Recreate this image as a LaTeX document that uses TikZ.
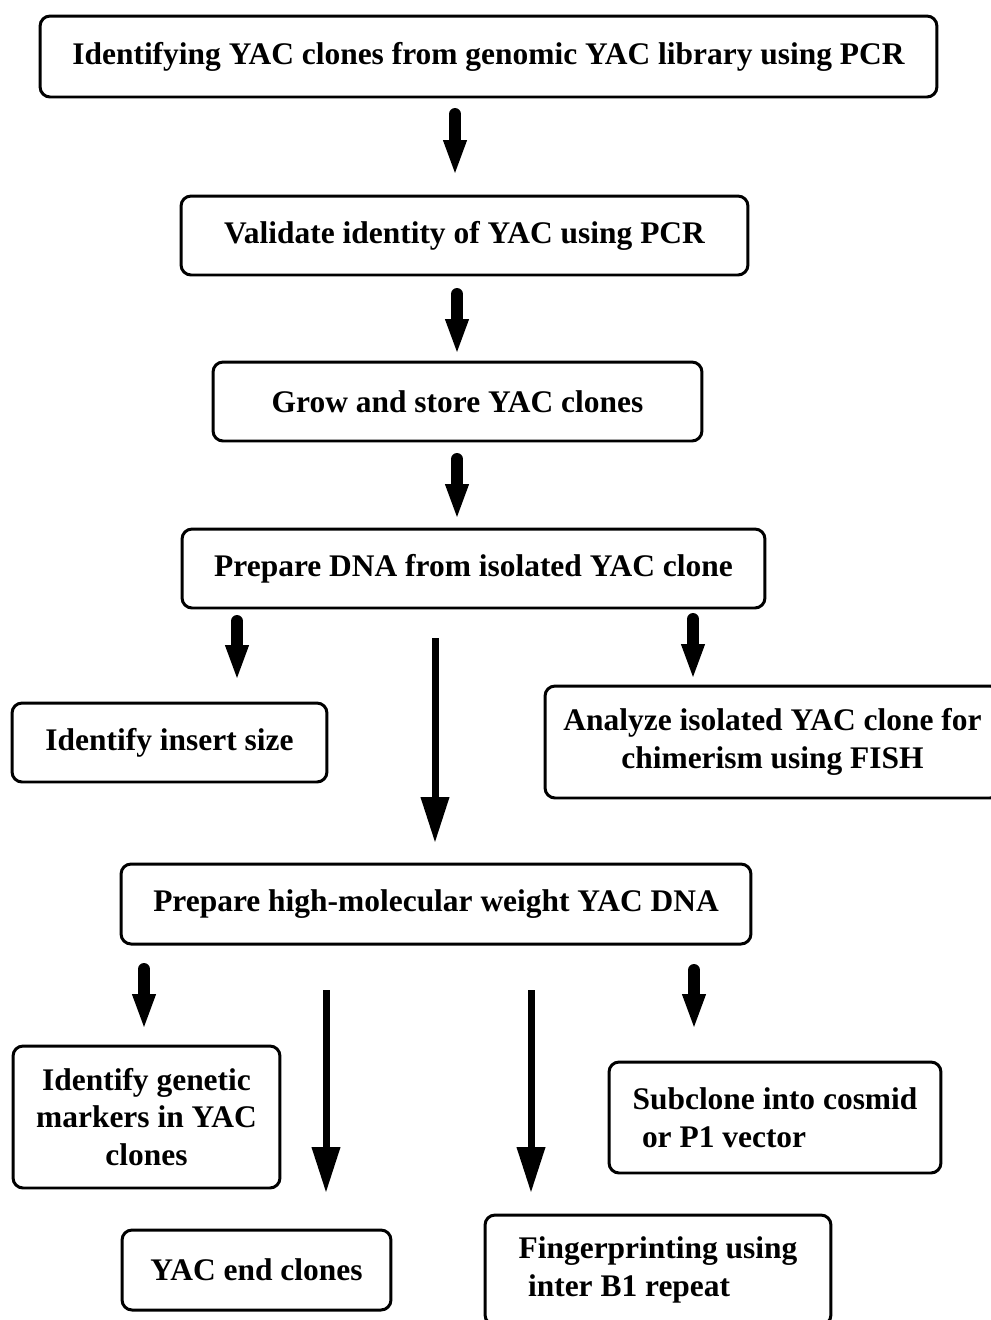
\documentclass[tikz,border=0pt]{standalone}
\usepackage{fontspec}
\setmainfont{Liberation Serif}
\usetikzlibrary{arrows.meta}

\begin{document}
\begin{tikzpicture}[x=0.02cm,y=-0.02cm,
        box/.style={draw,line width=1.7pt,rounded corners=0.2cm,align=center,
            font=\fontsize{17.9}{21.5}\selectfont\bfseries,inner sep=0pt},
        shortarr/.style={line width=0.24cm,line cap=round,-{Triangle[width=0.42cm,length=0.72cm]}},
        longarr/.style={line width=0.14cm,-{Triangle[width=0.54cm,length=0.92cm]}}]
        \useasboundingbox (0,0) rectangle (991,1320);
        % 方框
        \node [box,minimum width=17.94cm,minimum height=1.62cm] (lib) at (488.5,56.5)
            {Identifying YAC clones from genomic YAC library using PCR};
        \node [box,minimum width=11.34cm,minimum height=1.58cm] (val) at (464.5,235.5)
            {Validate identity of YAC using PCR};
        \node [box,minimum width=9.78cm,minimum height=1.58cm] (grow) at (457.5,401.5)
            {Grow and store YAC clones};
        \node [box,minimum width=11.66cm,minimum height=1.58cm] (prep) at (473.5,568.5)
            {Prepare DNA from isolated YAC clone};
        \node [box,minimum width=6.3cm,minimum height=1.58cm] (ins) at (169.5,742.5)
            {Identify insert size};
        \node [box,minimum width=9.1cm,minimum height=2.24cm] (chim) at (772.5,742)
            {Analyze isolated YAC clone for\\chimerism using FISH};
        \node [box,minimum width=12.6cm,minimum height=1.6cm] (hmw) at (436,904)
            {Prepare high-molecular weight YAC DNA};
        \node [box,minimum width=5.34cm,minimum height=2.84cm] (gen) at (146.5,1117)
            {Identify genetic\\markers in YAC\\clones};
        \node [box,minimum width=5.38cm,minimum height=1.6cm] (end) at (256.5,1270)
            {YAC end clones};
        \node [box,align=left,minimum width=6.92cm,minimum height=2.2cm] (fing) at (658,1270)
            {Fingerprinting using\\\hspace{0.3em}inter B1 repeat};
        \node [box,align=left,minimum width=6.64cm,minimum height=2.22cm] (sub) at (775,1117.5)
            {Subclone into cosmid\\\hspace{0.3em}or P1 vector};
        % 箭头起止点
        \coordinate (s1) at (455,114);  \coordinate (e1) at (455,176);
        \coordinate (s2) at (457,294);  \coordinate (e2) at (457,355);
        \coordinate (s3) at (457,459);  \coordinate (e3) at (457,520);
        \coordinate (s4) at (237,621);  \coordinate (e4) at (237,681);
        \coordinate (s5) at (693,619);  \coordinate (e5) at (693,680);
        \coordinate (s6) at (144,969);  \coordinate (e6) at (144,1030);
        \coordinate (s7) at (694,970);  \coordinate (e7) at (694,1030);
        \coordinate (l1) at (435,638);  \coordinate (m1) at (435,843);
        \coordinate (l2) at (326,990);  \coordinate (m2) at (326,1193);
        \coordinate (l3) at (531,990);  \coordinate (m3) at (531,1193);
        % 粗短箭头
        \draw [shortarr] (s1) -- (e1);
        \draw [shortarr] (s2) -- (e2);
        \draw [shortarr] (s3) -- (e3);
        \draw [shortarr] (s4) -- (e4);
        \draw [shortarr] (s5) -- (e5);
        \draw [shortarr] (s6) -- (e6);
        \draw [shortarr] (s7) -- (e7);
        % 长箭头
        \draw [longarr] (l1) -- (m1);
        \draw [longarr] (l2) -- (m2);
        \draw [longarr] (l3) -- (m3);
\end{tikzpicture}
\end{document}
